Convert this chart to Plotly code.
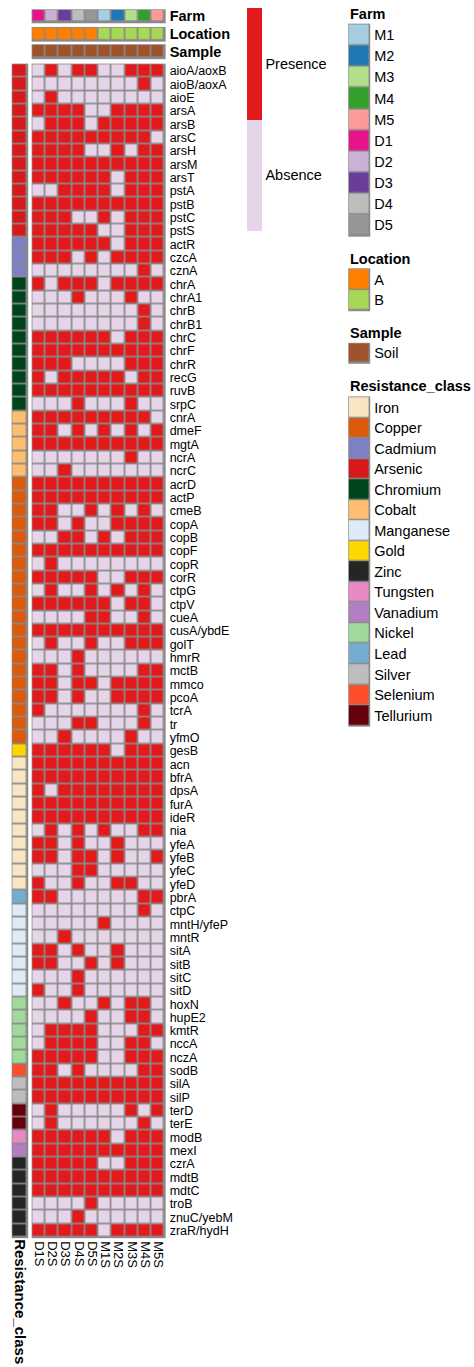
import plotly.graph_objects as go

W, H = 474, 1367
FONT = "Liberation Sans, Arial, Helvetica, sans-serif"

# ---- data -------------------------------------------------------------
samples = ["D1S", "D2S", "D3S", "D4S", "D5S", "M1S", "M2S", "M3S", "M4S", "M5S"]
farm = ["D1", "D2", "D3", "D4", "D5", "M1", "M2", "M3", "M4", "M5"]
location = ["A", "A", "A", "A", "A", "B", "B", "B", "B", "B"]
sample_type = ["Soil"] * 10

genes = [
    "aioA/aoxB", "aioB/aoxA", "aioE", "arsA", "arsB", "arsC", "arsH", "arsM", "arsT",
    "pstA", "pstB", "pstC", "pstS",
    "actR", "czcA", "cznA",
    "chrA", "chrA1", "chrB", "chrB1", "chrC", "chrF", "chrR", "recG", "ruvB", "srpC",
    "cnrA", "dmeF", "mgtA", "ncrA", "ncrC",
    "acrD", "actP", "cmeB", "copA", "copB", "copF", "copR", "corR", "ctpG", "ctpV",
    "cueA", "cusA/ybdE", "golT", "hmrR", "mctB", "mmco", "pcoA", "tcrA", "tr", "yfmO",
    "gesB",
    "acn", "bfrA", "dpsA", "furA", "ideR", "nia", "yfeA", "yfeB", "yfeC", "yfeD",
    "pbrA",
    "ctpC", "mntH/yfeP", "mntR", "sitA", "sitB", "sitC", "sitD",
    "hoxN", "hupE2", "kmtR", "nccA", "nczA",
    "sodB",
    "silA", "silP",
    "terD", "terE",
    "modB",
    "mexI",
    "czrA", "mdtB", "mdtC", "troB", "znuC/yebM", "zraR/hydH",
]

resistance_class = (
    ["Arsenic"] * 13 + ["Cadmium"] * 3 + ["Chromium"] * 10 + ["Cobalt"] * 5
    + ["Copper"] * 20 + ["Gold"] * 1 + ["Iron"] * 10 + ["Lead"] * 1
    + ["Manganese"] * 7 + ["Nickel"] * 5 + ["Selenium"] * 1 + ["Silver"] * 2
    + ["Tellurium"] * 2 + ["Tungsten"] * 1 + ["Vanadium"] * 1 + ["Zinc"] * 6
)

# 1 = presence, 0 = absence; columns follow `samples`
presence = [
    [0, 1, 0, 1, 1, 0, 0, 1, 1, 1],  # aioA/aoxB
    [0, 0, 0, 0, 0, 0, 0, 0, 1, 0],  # aioB/aoxA
    [0, 1, 0, 0, 0, 0, 0, 0, 0, 0],  # aioE
    [1, 1, 1, 1, 0, 0, 1, 1, 1, 1],  # arsA
    [0, 1, 1, 1, 0, 1, 1, 1, 1, 1],  # arsB
    [1, 1, 1, 1, 1, 1, 1, 1, 1, 0],  # arsC
    [1, 1, 1, 1, 0, 0, 1, 0, 1, 1],  # arsH
    [1, 1, 1, 1, 1, 1, 1, 1, 1, 1],  # arsM
    [1, 1, 1, 1, 1, 1, 0, 1, 1, 1],  # arsT
    [0, 0, 1, 1, 1, 1, 0, 1, 1, 1],  # pstA
    [1, 1, 1, 1, 1, 1, 1, 1, 1, 1],  # pstB
    [1, 1, 1, 0, 0, 1, 0, 1, 1, 1],  # pstC
    [1, 1, 1, 1, 1, 0, 0, 1, 1, 1],  # pstS
    [1, 1, 1, 1, 1, 1, 0, 1, 1, 1],  # actR
    [1, 1, 1, 0, 1, 0, 1, 1, 1, 1],  # czcA
    [0, 0, 0, 0, 0, 0, 0, 0, 1, 0],  # cznA
    [1, 0, 1, 1, 1, 0, 1, 1, 1, 1],  # chrA
    [0, 0, 0, 1, 0, 0, 0, 1, 0, 0],  # chrA1
    [0, 0, 0, 0, 0, 0, 0, 0, 1, 0],  # chrB
    [0, 0, 0, 0, 0, 0, 0, 0, 1, 0],  # chrB1
    [1, 1, 1, 1, 1, 1, 0, 1, 1, 1],  # chrC
    [1, 1, 1, 1, 1, 1, 1, 1, 1, 1],  # chrF
    [1, 1, 1, 0, 0, 0, 0, 1, 1, 1],  # chrR
    [1, 0, 1, 1, 1, 1, 1, 0, 1, 1],  # recG
    [1, 1, 1, 1, 1, 1, 1, 1, 1, 1],  # ruvB
    [0, 0, 0, 1, 0, 0, 0, 1, 0, 0],  # srpC
    [1, 1, 1, 1, 1, 1, 1, 1, 1, 0],  # cnrA
    [1, 1, 0, 1, 0, 1, 0, 1, 0, 1],  # dmeF
    [1, 1, 1, 1, 1, 1, 1, 1, 1, 1],  # mgtA
    [0, 0, 0, 0, 0, 0, 0, 1, 0, 0],  # ncrA
    [0, 0, 1, 0, 0, 0, 0, 0, 0, 0],  # ncrC
    [1, 1, 1, 1, 1, 1, 1, 1, 1, 1],  # acrD
    [1, 1, 1, 1, 1, 1, 1, 1, 1, 1],  # actP
    [1, 1, 0, 0, 1, 0, 1, 0, 1, 0],  # cmeB
    [1, 1, 0, 1, 0, 0, 1, 1, 1, 1],  # copA
    [0, 0, 1, 1, 0, 1, 0, 1, 1, 1],  # copB
    [1, 1, 1, 1, 1, 1, 1, 1, 1, 1],  # copF
    [0, 1, 0, 0, 0, 0, 0, 0, 0, 0],  # copR
    [1, 1, 1, 1, 1, 0, 0, 1, 1, 1],  # corR
    [0, 1, 0, 0, 1, 0, 1, 0, 1, 0],  # ctpG
    [1, 1, 1, 1, 1, 1, 0, 1, 1, 0],  # ctpV
    [0, 0, 0, 0, 1, 1, 0, 0, 1, 0],  # cueA
    [1, 1, 1, 1, 1, 1, 1, 1, 1, 1],  # cusA/ybdE
    [0, 1, 0, 0, 1, 0, 0, 1, 1, 1],  # golT
    [0, 0, 0, 1, 0, 0, 0, 0, 0, 0],  # hmrR
    [1, 1, 0, 1, 0, 0, 0, 0, 1, 1],  # mctB
    [1, 1, 0, 1, 1, 0, 1, 1, 1, 1],  # mmco
    [1, 1, 0, 1, 0, 0, 1, 1, 1, 1],  # pcoA
    [1, 0, 0, 0, 0, 0, 0, 0, 1, 0],  # tcrA
    [0, 0, 0, 1, 1, 0, 0, 0, 1, 0],  # tr
    [0, 0, 1, 0, 0, 0, 0, 1, 0, 0],  # yfmO
    [1, 1, 1, 1, 1, 1, 0, 1, 1, 1],  # gesB
    [1, 1, 1, 1, 1, 1, 1, 1, 1, 1],  # acn
    [1, 1, 1, 1, 1, 1, 1, 1, 1, 1],  # bfrA
    [1, 0, 1, 1, 1, 1, 1, 1, 1, 1],  # dpsA
    [1, 1, 1, 1, 1, 1, 1, 1, 1, 1],  # furA
    [1, 1, 1, 1, 1, 1, 1, 1, 1, 1],  # ideR
    [0, 1, 0, 1, 0, 1, 0, 0, 1, 1],  # nia
    [1, 1, 0, 1, 0, 0, 1, 0, 0, 0],  # yfeA
    [1, 1, 0, 1, 1, 0, 1, 0, 0, 1],  # yfeB
    [0, 0, 0, 1, 1, 0, 0, 0, 0, 0],  # yfeC
    [1, 0, 0, 1, 0, 0, 1, 1, 0, 0],  # yfeD
    [1, 1, 0, 0, 0, 0, 0, 0, 1, 1],  # pbrA
    [0, 0, 0, 0, 0, 0, 0, 0, 1, 0],  # ctpC
    [0, 0, 0, 0, 0, 1, 0, 0, 0, 0],  # mntH/yfeP
    [0, 0, 1, 0, 0, 0, 0, 0, 0, 0],  # mntR
    [1, 1, 0, 1, 0, 0, 1, 0, 0, 0],  # sitA
    [1, 1, 0, 0, 1, 0, 1, 0, 0, 0],  # sitB
    [0, 0, 0, 1, 0, 0, 0, 0, 0, 0],  # sitC
    [1, 0, 0, 1, 0, 0, 0, 0, 0, 0],  # sitD
    [0, 0, 1, 0, 0, 1, 0, 1, 1, 0],  # hoxN
    [0, 0, 0, 0, 1, 0, 0, 1, 1, 0],  # hupE2
    [0, 1, 1, 1, 1, 0, 0, 0, 1, 1],  # kmtR
    [0, 1, 1, 1, 1, 0, 0, 1, 1, 0],  # nccA
    [1, 1, 1, 1, 1, 0, 0, 1, 1, 1],  # nczA
    [1, 1, 0, 1, 0, 0, 0, 0, 1, 1],  # sodB
    [1, 1, 1, 1, 1, 1, 1, 1, 1, 1],  # silA
    [1, 1, 1, 1, 1, 1, 1, 1, 1, 1],  # silP
    [0, 1, 0, 0, 0, 0, 0, 1, 0, 1],  # terD
    [0, 1, 0, 0, 0, 0, 0, 0, 1, 0],  # terE
    [1, 1, 1, 1, 1, 1, 0, 1, 1, 1],  # modB
    [1, 1, 1, 1, 1, 1, 1, 1, 1, 1],  # mexI
    [1, 1, 1, 1, 1, 0, 0, 1, 1, 1],  # czrA
    [1, 1, 1, 1, 1, 1, 1, 1, 1, 1],  # mdtB
    [1, 1, 1, 1, 1, 1, 1, 1, 1, 1],  # mdtC
    [0, 0, 0, 0, 1, 0, 0, 0, 0, 0],  # troB
    [0, 0, 0, 1, 0, 0, 0, 0, 0, 0],  # znuC/yebM
    [1, 1, 1, 1, 1, 0, 1, 1, 1, 1],  # zraR/hydH
]

state_labels = ["Absence", "Presence"]
state_colors = ["#E6D5E9", "#E31A1C"]

farm_levels = ["M1", "M2", "M3", "M4", "M5", "D1", "D2", "D3", "D4", "D5"]
farm_colors = ["#A6CEE3", "#1F78B4", "#B2DF8A", "#33A02C", "#FB9A99",
               "#E7138A", "#CAB2D6", "#6A3D9A", "#BDBDBD", "#969696"]

location_levels = ["A", "B"]
location_colors = ["#FF7F00", "#A6D854"]

sample_levels = ["Soil"]
sample_colors = ["#A0522D"]

class_levels = ["Iron", "Copper", "Cadmium", "Arsenic", "Chromium", "Cobalt",
                "Manganese", "Gold", "Zinc", "Tungsten", "Vanadium", "Nickel",
                "Lead", "Silver", "Selenium", "Tellurium"]
class_colors = ["#F8E5C2", "#DB5A0C", "#7E80C6", "#D7191C", "#00441B", "#FDBF6F",
                "#DEEBF7", "#FFD700", "#252525", "#E78AC3", "#B27EC2", "#A1D99B",
                "#74ADD1", "#BDBDBD", "#FC4E2A", "#67000D"]

# ---- helpers ----------------------------------------------------------
GRID = "#8A8A8A"


def xdom(left, right):
    return [left / W, right / W]


def ydom(top, bottom):
    return [1 - bottom / H, 1 - top / H]


def discrete_scale(colors):
    n = len(colors)
    if n == 1:
        return [[0, colors[0]], [1, colors[0]]]
    scale = []
    for i, c in enumerate(colors):
        scale += [[i / n, c], [(i + 1) / n, c]]
    return scale


def codes(values, levels):
    return [levels.index(v) for v in values]


def cat_heatmap(z, levels, colors, xa, ya, gap=1.7):
    return go.Heatmap(
        z=z, zmin=-0.5, zmax=len(levels) - 0.5,
        colorscale=discrete_scale(colors), showscale=False,
        xgap=gap, ygap=gap, xaxis=xa, yaxis=ya, hoverinfo="skip",
    )


def hidden(**kw):
    base = dict(showgrid=False, zeroline=False, showline=False, ticks="",
                showticklabels=False, fixedrange=True)
    base.update(kw)
    return base


E = 0.06  # small overhang so the grey frame shows around the outer bricks
n_s, n_g = len(samples), len(genes)

# ---- geometry (pixels) ------------------------------------------------
HM_L, HM_R = 31.7, 166.0
HM_T, HM_B = 62.7, 1239.0
RC_L, RC_R = 11.7, 28.3
LEG_L, LEG_R = 349.0, 371.0

fig = go.Figure()

# main presence / absence matrix
fig.add_trace(go.Heatmap(
    z=presence, x=list(range(n_s)), y=list(range(n_g)),
    zmin=0, zmax=1, colorscale=discrete_scale(state_colors),
    xgap=1.7, ygap=1.7, xaxis="x", yaxis="y", hoverinfo="skip",
    colorbar=dict(
        x=248 / W, xanchor="left", xpad=0,
        y=1 - 7 / H, yanchor="top", ypad=0,
        len=223, lenmode="pixels", thickness=15, outlinewidth=0,
        tickmode="array", tickvals=[0.25, 0.75], ticktext=state_labels,
        ticks="", tickfont=dict(size=14.5, color="#000", family=FONT),
    ),
))

# row annotation: resistance class
fig.add_trace(cat_heatmap([[c] for c in codes(resistance_class, class_levels)],
                          class_levels, class_colors, "x2", "y2"))

# column annotations
fig.add_trace(cat_heatmap([codes(farm, farm_levels)], farm_levels, farm_colors, "x3", "y3"))
fig.add_trace(cat_heatmap([codes(location, location_levels)], location_levels,
                          location_colors, "x4", "y4"))
fig.add_trace(cat_heatmap([codes(sample_type, sample_levels)], sample_levels,
                          sample_colors, "x5", "y5"))

# legend swatch columns
legend_blocks = [
    ("Farm", farm_levels, farm_colors, 22.7, 236.0, 12.7),
    ("Location", location_levels, location_colors, 267.7, 310.7, 258.0),
    ("Sample", sample_levels, sample_colors, 342.3, 363.3, 332.7),
    ("Resistance_class", class_levels, class_colors, 396.0, 726.7, 386.0),
]
for k, (title, levels, colors, top, bottom, _) in enumerate(legend_blocks):
    idx = 6 + k
    fig.add_trace(cat_heatmap([[i] for i in range(len(levels))], levels, colors,
                              f"x{idx}", f"y{idx}", gap=1.4))

tick_font = dict(size=12.5, color="#000", family=FONT)
layout = dict(
    width=W, height=H, autosize=False,
    margin=dict(l=0, r=0, t=0, b=0, pad=0),
    paper_bgcolor="white", plot_bgcolor=GRID,
    font=dict(family=FONT, color="#000"),
    showlegend=False,
    xaxis=hidden(domain=xdom(HM_L, HM_R), range=[-0.5 - E, n_s - 0.5 + E], anchor="y",
                 showticklabels=True, tickmode="array", tickvals=list(range(n_s)),
                 ticktext=samples, tickangle=90, side="bottom", ticklabelstandoff=2,
                 tickfont=dict(size=13, color="#000", family=FONT)),
    yaxis=hidden(domain=ydom(HM_T, HM_B), range=[n_g - 0.5 + E, -0.5 - E], anchor="x",
                 showticklabels=True, tickmode="array", tickvals=list(range(n_g)),
                 ticktext=genes, side="right", ticklabelstandoff=3, tickfont=tick_font),
    xaxis2=hidden(domain=xdom(RC_L, RC_R), range=[-0.5 - 0.05, 0.5 + 0.05], anchor="y2",
                  showticklabels=True, tickmode="array", tickvals=[0],
                  ticktext=["<b>Resistance_class</b>"], tickangle=90, side="bottom",
                  tickfont=dict(size=15, color="#000", family=FONT)),
    yaxis2=hidden(domain=ydom(HM_T, HM_B), range=[n_g - 0.5 + E, -0.5 - E], anchor="x2"),
)

top_rows = [("Farm", 8.3, 22.3), ("Location", 26.0, 40.7), ("Sample", 43.3, 58.3)]
for k, (name, t, b) in enumerate(top_rows):
    idx = 3 + k
    layout[f"xaxis{idx}"] = hidden(domain=xdom(HM_L, HM_R), range=[-0.5 - E, n_s - 0.5 + E],
                                   anchor=f"y{idx}")
    layout[f"yaxis{idx}"] = hidden(domain=ydom(t, b), range=[0.5 + 0.06, -0.5 - 0.06],
                                   anchor=f"x{idx}", side="right", showticklabels=True,
                                   tickmode="array", tickvals=[0], ticktext=[f"<b>{name}</b>"],
                                   ticklabelstandoff=3,
                                   tickfont=dict(size=14.5, color="#000", family=FONT))

annotations = []
for k, (title, levels, colors, top, bottom, ty) in enumerate(legend_blocks):
    idx = 6 + k
    n = len(levels)
    layout[f"xaxis{idx}"] = hidden(domain=xdom(LEG_L, LEG_R), range=[-0.53, 0.53],
                                   anchor=f"y{idx}")
    layout[f"yaxis{idx}"] = hidden(domain=ydom(top, bottom), range=[n - 0.5 + 0.04, -0.5 - 0.04],
                                   anchor=f"x{idx}", side="right", showticklabels=True,
                                   tickmode="array", tickvals=list(range(n)), ticktext=levels,
                                   ticklabelstandoff=3,
                                   tickfont=dict(size=14.5, color="#000", family=FONT))
    annotations.append(dict(
        x=LEG_L / W, y=1 - ty / H, xref="paper", yref="paper",
        xanchor="left", yanchor="middle", showarrow=False,
        text=f"<b>{title}</b>", font=dict(size=14.5, color="#000", family=FONT),
    ))

layout["annotations"] = annotations
fig.update_layout(**layout)

fig.write_html("out.html")
